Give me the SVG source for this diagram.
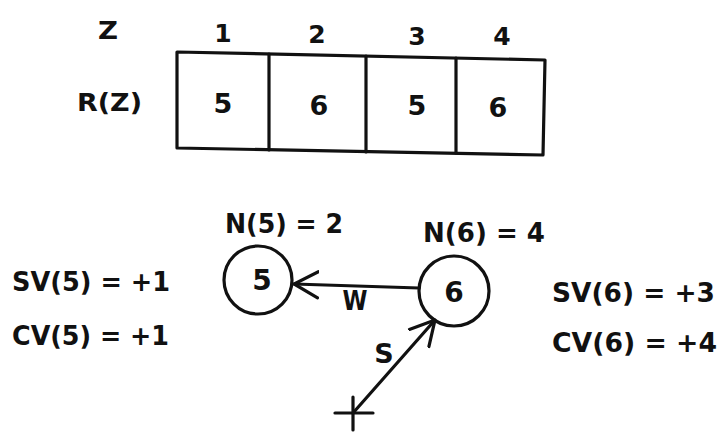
<svg xmlns="http://www.w3.org/2000/svg" width="723" height="433" viewBox="0 0 723 433">
<style>
text{font-family:"DejaVu Sans","Liberation Sans",sans-serif;font-weight:bold;fill:#111}
.lbl{font-size:26px}
.mid{text-anchor:middle}
.ln{stroke:#111;stroke-width:3.2;fill:none;stroke-linecap:round;stroke-linejoin:round}
</style>
<defs>
<marker id="open" viewBox="0 0 26 30" refX="25" refY="15" markerWidth="26" markerHeight="30" markerUnits="userSpaceOnUse" orient="auto">
<path d="M1,2 L25,15 L1,28" fill="none" stroke="#111" stroke-width="3.2" stroke-linecap="round"/>
</marker>
</defs>
<rect width="723" height="433" fill="#fff"/>
<g id="table">
<polygon class="ln" points="177,52 545,60 543,155 177,148" stroke-width="3.4"/>
<line class="ln" x1="269" y1="54" x2="269" y2="150"/>
<line class="ln" x1="366" y1="56" x2="366" y2="152"/>
<line class="ln" x1="456" y1="58" x2="456" y2="153"/>
<text x="108" y="39" class="mid" font-size="24" textLength="20" lengthAdjust="spacingAndGlyphs">Z</text>
<text x="223" y="42" class="mid" font-size="25">1</text>
<text x="317" y="43" class="mid" font-size="25">2</text>
<text x="417" y="45" class="mid" font-size="25">3</text>
<text x="502" y="45" class="mid" font-size="25">4</text>
<text x="77" y="111" font-size="25" textLength="65" lengthAdjust="spacingAndGlyphs">R(Z)</text>
<text x="223" y="113" class="mid" font-size="27">5</text>
<text x="319" y="115" class="mid" font-size="27">6</text>
<text x="417" y="115" class="mid" font-size="27">5</text>
<text x="498" y="117" class="mid" font-size="27">6</text>
</g>
<g id="node5">
<circle class="ln" cx="258" cy="280" r="34"/>
<text x="262" y="290" class="mid" font-size="28">5</text>
<text x="225" y="233" class="lbl" textLength="118" lengthAdjust="spacingAndGlyphs">N(5) = 2</text>
<text x="12" y="291" class="lbl" textLength="158" lengthAdjust="spacingAndGlyphs">SV(5) = +1</text>
<text x="12" y="345" class="lbl" textLength="157" lengthAdjust="spacingAndGlyphs">CV(5) = +1</text>
</g>
<g id="node6">
<circle class="ln" cx="454" cy="291" r="35"/>
<text x="454" y="302" class="mid" font-size="28">6</text>
<text x="423" y="242" class="lbl" textLength="122" lengthAdjust="spacingAndGlyphs">N(6) = 4</text>
<text x="552" y="302" class="lbl" textLength="163" lengthAdjust="spacingAndGlyphs">SV(6) = +3</text>
<text x="552" y="352" class="lbl" textLength="165" lengthAdjust="spacingAndGlyphs">CV(6) = +4</text>
</g>
<g id="start">
<line class="ln" x1="335" y1="413" x2="373" y2="413"/>
<line class="ln" x1="353" y1="397" x2="353" y2="430"/>
</g>
<g id="connectors">
<line class="ln" x1="419" y1="288" x2="294" y2="284" marker-end="url(#open)"/>
<text x="355" y="310" class="mid" font-size="26" textLength="25" lengthAdjust="spacingAndGlyphs">W</text>
<line class="ln" x1="353" y1="413" x2="435" y2="320" marker-end="url(#open)"/>
<text x="384" y="363" class="mid" font-size="27">S</text>
</g>
</svg>
